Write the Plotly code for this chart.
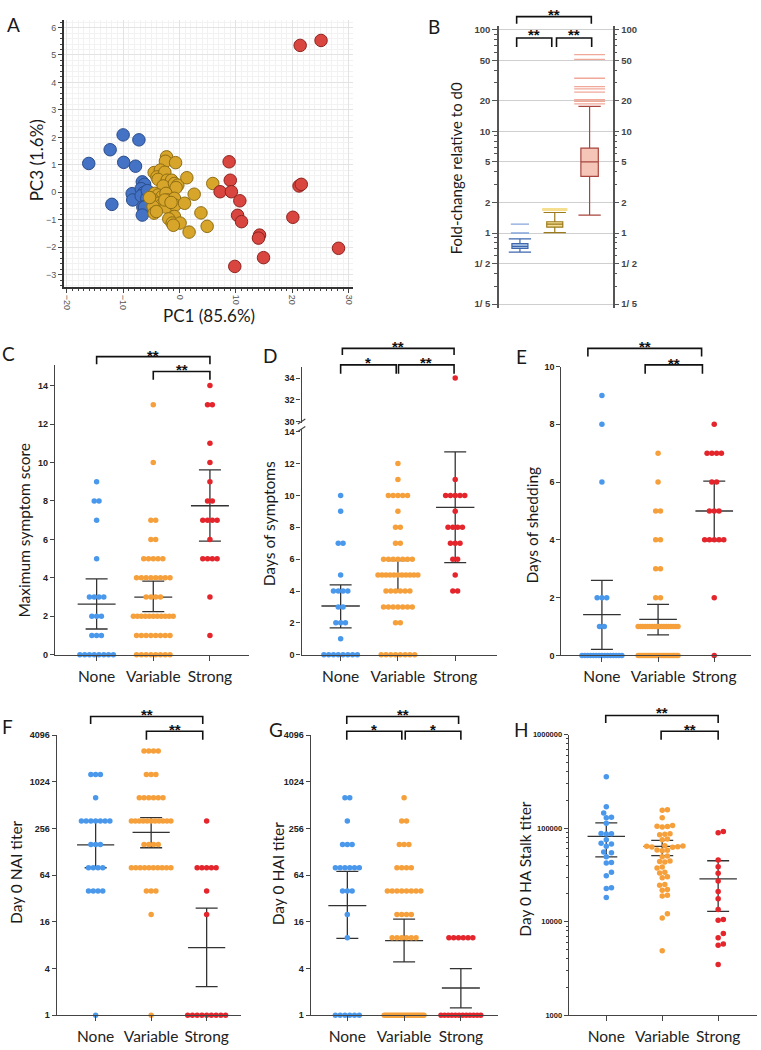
import math
import plotly.graph_objects as go

W, H = 761, 1050


def px(x):
    return x / W


def py(y):
    return 1 - y / H


CATS = ["None", "Variable", "Strong"]
DOT_COLORS = ["#4a98ec", "#f6a03c", "#e4252c"]
TEXT_FONT = "Lato"

# ---------------- Panel A (PCA) ----------------
A_BLUE_PC1 = [-16.1, -10.0, -7.2, -12.3, -9.9, -7.8, -12.0, -8.4, -8.3, -6.6, -6.2, -6.8, -6.3, -6.8, -5.8, -6.5, -6.2, -6.6, -5.7]
A_BLUE_PC3 = [1.05, 2.09, 1.91, 1.55, 1.09, 0.95, -0.44, -0.05, -0.28, 0.38, 0.29, 0.13, -0.01, -0.13, -0.22, -0.54, -0.54, -0.83, 0.06]
A_GOLD_PC1 = [-2.3, -2.5, -0.7, -4.5, -3.4, -4.0, -2.6, -3.8, -2.2, -1.4, -2.9, -0.9, -0.3, -0.6, 1.3, 5.9, 2.6, -4.4, -3.8, -3.1, -2.4, -2.1,
              -0.9, -4.7, -3.8, -3.2, -4.7, -2.4, -0.8, 0.9, -4.5, -4.1, -0.9, -1.9, -1.3, 0.1, -1.1, 3.8, 4.9, 1.7, -2.6, -1.5, -5.3]
A_GOLD_PC3 = [1.29, 1.13, 1.08, 0.72, 0.81, 0.56, 0.73, 0.47, 0.44, 0.44, 0.23, 0.32, 0.26, 0.17, 0.53, 0.32, -0.07, -0.04, -0.10, -0.16, -0.04, -0.28,
              -0.22, -0.28, -0.40, -0.46, -0.52, -0.54, -0.47, -0.40, -0.76, -0.70, -0.88, -0.97, -1.12, -1.12, -1.20, -0.75, -1.24, -1.45, -0.28, -0.37, -0.19]
A_RED_PC1 = [21.4, 25.1, 8.8, 9.0, 7.2, 9.2, 10.7, 10.3, 11.0, 21.2, 21.6, 20.1, 14.2, 14.0, 14.9, 9.8, 28.2]
A_RED_PC3 = [5.35, 5.53, 1.11, 0.44, 0.02, 0.02, -0.31, -0.84, -1.07, 0.23, 0.29, -0.91, -1.56, -1.67, -2.38, -2.70, -2.04]

# ---------------- Panel B (box plots) ----------------
B_Q1 = [0.705, 1.14, 3.6]
B_MED = [0.74, 1.22, 5.0]
B_Q3 = [0.787, 1.29, 6.84]
B_LOW = [0.65, 1.01, 1.5]
B_HIGH = [0.875, 1.59, 17.6]
B_OUT_BLUE = [1.0, 1.22]
B_OUT_GOLD = [1.68, 1.73]
B_OUT_RED = [56.8, 51.0, 33.2, 27.5, 26.1, 24.3, 20.4, 19.7, 18.6]
B_TICKS = [0.2, 0.5, 1, 2, 5, 10, 20, 50, 100]
B_TICKTEXT = ["1/ 5", "1/ 2", "1", "2", "5", "10", "20", "50", "100"]

# ---------------- Panel C ----------------
C_VALS = [[9, 8, 7, 5, 3, 2, 1, 0], [13, 10, 7, 6, 5, 4, 3, 2, 1, 0], [14, 13, 11, 10, 9, 8, 7, 6, 5, 3, 1]]
C_CNTS = [[1, 2, 1, 1, 4, 3, 3, 8], [1, 1, 2, 2, 5, 8, 4, 11, 8, 8], [1, 2, 1, 1, 1, 2, 4, 1, 4, 1, 1]]
C_MEAN = [2.63, 3.0, 7.75]
C_LO = [1.34, 2.24, 5.91]
C_HI = [3.95, 3.83, 9.62]

# ---------------- Panel D ----------------
D_VALS = [[10, 9, 7, 5, 4, 3, 2, 1, 0], [12, 11, 10, 9, 8, 7, 6, 5, 4, 3, 2, 0], [34, 11, 10, 9, 8, 7, 6, 5, 4]]
D_CNTS = [[1, 1, 2, 1, 4, 2, 3, 1, 8], [1, 1, 5, 1, 2, 2, 7, 11, 6, 7, 2, 8], [1, 1, 5, 1, 4, 3, 2, 1, 2]]
D_MEAN = [3.06, 4.93, 9.25]
D_LO = [1.68, 4.0, 5.78]
D_HI = [4.39, 5.9, 12.73]

# ---------------- Panel E ----------------
E_VALS = [[9, 8, 6, 2, 1, 0], [7, 6, 5, 4, 3, 2, 1, 0], [8, 7, 6, 5, 4, 2, 0]]
E_CNTS = [[1, 1, 1, 3, 2, 15], [1, 1, 2, 2, 2, 2, 18, 25], [1, 4, 2, 3, 5, 1, 1]]
E_MEAN = [1.41, 1.25, 5.0]
E_LO = [0.21, 0.71, 3.97]
E_HI = [2.6, 1.77, 6.03]

# ---------------- Panel F ----------------
F_VALS = [[1280, 640, 320, 160, 80, 40, 1], [2560, 1280, 640, 320, 160, 80, 40, 20, 1], [320, 80, 40, 20, 1]]
F_CNTS = [[3, 1, 7, 3, 4, 4, 1], [4, 3, 6, 11, 4, 10, 3, 1, 1], [1, 5, 1, 1, 9]]
F_MEAN = [158, 229, 7.45]
F_LO = [80, 145, 2.34]
F_HI = [320, 355, 24.1]

# ---------------- Panel G ----------------
G_VALS = [[640, 320, 160, 80, 40, 20, 10, 1], [640, 320, 160, 80, 40, 20, 10, 1], [10, 1]]
G_CNTS = [[2, 1, 3, 6, 3, 1, 1, 6], [1, 2, 3, 4, 8, 4, 6, 25], [6, 12]]
G_MEAN = [26, 9.2, 2.25]
G_LO = [9.8, 4.9, 1.25]
G_HI = [72, 17.4, 4.0]

TITER_TICKS = [1, 4, 16, 64, 256, 1024, 4096]

# ---------------- Panel H ----------------
H_NONE = [354000, 170000, 145000, 129000, 131000, 113000, 88000, 87300, 86500, 75500, 68900, 68000, 64000, 55800, 54500,
          49500, 43000, 42400, 33800, 31100, 23100, 22700, 18200]
H_VARIABLE = [158000, 156000, 129000, 107000, 105000, 104000, 103000, 87000, 86000, 85000, 76500, 75500, 65000, 64500, 64000,
              63500, 63000, 62500, 58500, 58000, 57500, 50500, 49500, 44500, 44000, 43500, 38500, 37500, 33800, 33200, 30200,
              29600, 25000, 24600, 22100, 21700, 19200, 18800, 12200, 11000, 4900]
H_STRONG = [92500, 89600, 45600, 38700, 33000, 27300, 21100, 17600, 13500, 10600, 10400, 7500, 6760, 5800, 5600, 3500]
H_MEAN = [81800, 64000, 28700]
H_LO = [49400, 51000, 12900]
H_HI = [114000, 74000, 44900]

fig = go.Figure()


def row_points(vals, cnts, ppu, step_px=4.8, max_px=40.0):
    xs, ys = [], []
    for gi, (vl, cl) in enumerate(zip(vals, cnts)):
        gx, gy = [], []
        for v, n in zip(vl, cl):
            s = step_px if n <= 1 else min(step_px, max_px / (n - 1))
            for k in range(n):
                gx.append(gi + (k - (n - 1) / 2) * s / ppu)
                gy.append(v)
        xs.append(gx)
        ys.append(gy)
    return xs, ys


def swarm(vals, gi, px_per_dec, ppu, d=5.2):
    ys = [math.log10(v) * px_per_dec for v in vals]
    order = sorted(range(len(vals)), key=lambda i: ys[i])
    placed = []
    offs = [0.0] * len(vals)
    cands = [0.0]
    for k in range(1, 60):
        cands += [k * d / 2, -k * d / 2]
    for i in order:
        y = ys[i]
        for c in cands:
            if all((c - a) ** 2 + (y - b) ** 2 >= d * d for a, b in placed):
                break
        placed.append((c, y))
        offs[i] = gi + c / ppu
    return offs


def add_summary(xa, ya, mean, lo, hi, half=0.335):
    fig.add_trace(go.Scatter(
        x=[0, 1, 2], y=mean, mode="markers", xaxis=xa, yaxis=ya,
        marker=dict(size=1, opacity=0), cliponaxis=False, hoverinfo="skip", showlegend=False,
        error_y=dict(type="data", symmetric=False,
                     array=[h - m for h, m in zip(hi, mean)],
                     arrayminus=[m - l for m, l in zip(mean, lo)],
                     color="#333333", thickness=1.3, width=11)))
    lx, ly = [], []
    for i, m in enumerate(mean):
        lx += [i - half, i + half, None]
        ly += [m, m, None]
    fig.add_trace(go.Scatter(x=lx, y=ly, mode="lines", xaxis=xa, yaxis=ya,
                             line=dict(color="#333333", width=1.3), cliponaxis=False,
                             hoverinfo="skip", showlegend=False))


def add_dots(xa, ya, xs, ys):
    for gi in range(3):
        fig.add_trace(go.Scatter(x=xs[gi], y=ys[gi], mode="markers", xaxis=xa, yaxis=ya,
                                 marker=dict(size=5.5, color=DOT_COLORS[gi], line=dict(width=0)),
                                 cliponaxis=False, hoverinfo="skip", showlegend=False))


# ---- Panel A traces
for pc1, pc3, col, edge in [(A_BLUE_PC1, A_BLUE_PC3, "#4472c4", "#2b4d8c"),
                            (A_GOLD_PC1, A_GOLD_PC3, "#d6a52a", "#8f6d12"),
                            (A_RED_PC1, A_RED_PC3, "#d9453f", "#8e2420")]:
    fig.add_trace(go.Scatter(x=pc1, y=pc3, mode="markers", xaxis="x", yaxis="y",
                             marker=dict(size=12.5, color=col, line=dict(color=edge, width=1)),
                             hoverinfo="skip", showlegend=False))

# ---- Panel B traces
B_FILL = ["#b9cfec", "#f4df94", "#f5c6b8"]
B_LINE = ["#3d66ad", "#9a7a1c", "#a8443c"]
B_OUTC = ["#86a6dc", "#f2d46a", "#f0a898"]
B_OUTS = [13, 18, 22]
B_W = [0.46, 0.46, 0.5]
for i in range(3):
    fig.add_trace(go.Box(x=[i], q1=[B_Q1[i]], median=[B_MED[i]], q3=[B_Q3[i]],
                         lowerfence=[B_LOW[i]], upperfence=[B_HIGH[i]], width=B_W[i], whiskerwidth=0,
                         fillcolor=B_FILL[i], line=dict(color=B_LINE[i], width=1.2),
                         boxpoints=False, xaxis="x2", yaxis="y2", hoverinfo="skip", showlegend=False))
    cw = 0.32
    fig.add_trace(go.Scatter(x=[i - cw, i + cw, None, i - cw, i + cw],
                             y=[B_LOW[i], B_LOW[i], None, B_HIGH[i], B_HIGH[i]],
                             mode="lines", line=dict(color=B_LINE[i], width=1.2),
                             xaxis="x2", yaxis="y2", hoverinfo="skip", showlegend=False))
for i, outs in enumerate([B_OUT_BLUE, B_OUT_GOLD, B_OUT_RED]):
    fig.add_trace(go.Scatter(x=[i] * len(outs), y=outs, mode="markers", xaxis="x2", yaxis="y2",
                             marker=dict(symbol="line-ew", size=B_OUTS[i], line=dict(color=B_OUTC[i], width=1.3)),
                             hoverinfo="skip", showlegend=False))
fig.add_trace(go.Scatter(x=[1], y=[1], mode="markers", marker=dict(opacity=0), xaxis="x2", yaxis="y3",
                         hoverinfo="skip", showlegend=False))

# ---- Panel C
add_summary("x3", "y4", C_MEAN, C_LO, C_HI)
xs, ys = row_points(C_VALS, C_CNTS, 56.9)
add_dots("x3", "y4", xs, ys)

# ---- Panel D (broken axis)
add_summary("x4", "y5", D_MEAN, D_LO, D_HI)
xs, ys = row_points(D_VALS, D_CNTS, 57.5)
lowx, lowy, upx, upy = [], [], [], []
for gi in range(3):
    lx_, ly_, ux_, uy_ = [], [], [], []
    for x_, y_ in zip(xs[gi], ys[gi]):
        if y_ >= 30:
            ux_.append(x_); uy_.append(y_)
        else:
            lx_.append(x_); ly_.append(y_)
    lowx.append(lx_); lowy.append(ly_); upx.append(ux_); upy.append(uy_)
add_dots("x4", "y5", lowx, lowy)
add_dots("x4", "y6", upx, upy)

# ---- Panel E
add_summary("x5", "y7", E_MEAN, E_LO, E_HI)
xs, ys = row_points(E_VALS, E_CNTS, 56.35)
add_dots("x5", "y7", xs, ys)

# ---- Panel F
add_summary("x6", "y8", F_MEAN, F_LO, F_HI)
xs, ys = row_points(F_VALS, F_CNTS, 56.2)
add_dots("x6", "y8", xs, ys)

# ---- Panel G
add_summary("x7", "y9", G_MEAN, G_LO, G_HI)
xs, ys = row_points(G_VALS, G_CNTS, 57.0)
add_dots("x7", "y9", xs, ys)

# ---- Panel H
add_summary("x8", "y10", H_MEAN, H_LO, H_HI)
hx = [swarm(g, gi, 94.4, 56.15) for gi, g in enumerate([H_NONE, H_VARIABLE, H_STRONG])]
add_dots("x8", "y10", hx, [H_NONE, H_VARIABLE, H_STRONG])

# ---------------- Axes ----------------
TICKFONT = dict(family="Liberation Sans", size=9, color="#222222", weight="bold")
CATFONT = dict(family=TEXT_FONT, size=15.5, color="#222222")
LINEC = "#444444"


def cat_x(domain, rng, anchor):
    return dict(domain=domain, range=rng, anchor=anchor, tickmode="array", tickvals=[0, 1, 2],
                ticktext=CATS, tickfont=CATFONT, showline=True, linecolor=LINEC, linewidth=1.3,
                ticks="outside", ticklen=5, tickcolor=LINEC, showgrid=False, zeroline=False,
                ticklabelstandoff=2, fixedrange=True)


def val_y(domain, rng, anchor, **kw):
    d = dict(domain=domain, range=rng, anchor=anchor, showline=True, linecolor=LINEC, linewidth=1.3,
             ticks="outside", ticklen=4, tickcolor=LINEC, tickfont=TICKFONT, showgrid=False,
             zeroline=False, fixedrange=True)
    d.update(kw)
    return d


layout = dict(
    width=W, height=H, margin=dict(l=0, r=0, t=0, b=0),
    paper_bgcolor="white", plot_bgcolor="white", showlegend=False,
    font=dict(family=TEXT_FONT, color="#222222"),
    # A
    xaxis=dict(domain=[px(62), px(352)], range=[-20.53, 30.7], anchor="y", tick0=0, dtick=10,
               tickangle=90, tickfont=dict(family="Liberation Sans", size=9, color="#555555"),
               showline=True, linecolor="#333333", linewidth=1.5, ticks="outside", ticklen=4,
               showgrid=True, gridcolor="#e3e3e3", gridwidth=1, zeroline=False,
               minor=dict(tick0=0, dtick=1, showgrid=True, gridcolor="#f2f2f2", ticks="outside", ticklen=2)),
    yaxis=dict(domain=[py(285), py(15)], range=[-3.46, 6.28], anchor="x", tick0=0, dtick=1,
               tickfont=dict(family="Liberation Sans", size=9, color="#555555"),
               showline=True, linecolor="#333333", linewidth=1.5, ticks="outside", ticklen=4,
               showgrid=True, gridcolor="#e3e3e3", gridwidth=1, zeroline=False,
               minor=dict(tick0=0, dtick=0.2, showgrid=True, gridcolor="#f2f2f2", ticks="outside", ticklen=2)),
    # B
    xaxis2=dict(domain=[px(499), px(613)], range=[-0.6, 2.66], anchor="y2", visible=False, fixedrange=True),
    yaxis2=dict(domain=[py(306), py(21.7)], type="log", range=[-0.738, 2.03], anchor="x2",
                tickmode="array", tickvals=B_TICKS, ticktext=B_TICKTEXT,
                tickfont=dict(family="Liberation Sans", size=9.5, color="#444444", weight="bold"),
                showline=True, linecolor="#555555", linewidth=1.5, ticks="outside", ticklen=5,
                tickcolor="#555555", showgrid=True, gridcolor="#cfcfcf", zeroline=False,
                minor=dict(tickmode="array", tickvals=[0.3, 0.4, 0.6, 0.7, 0.8, 0.9, 3, 4, 6, 7, 8, 9, 30, 40, 60, 70, 80, 90],
                           ticks="outside", ticklen=3, tickcolor="#555555", showgrid=False)),
    yaxis3=dict(overlaying="y2", side="right", type="log", range=[-0.738, 2.03], anchor="x2",
                tickmode="array", tickvals=B_TICKS, ticktext=B_TICKTEXT,
                tickfont=dict(family="Liberation Sans", size=9.5, color="#444444", weight="bold"),
                showline=True, linecolor="#555555", linewidth=1.5, ticks="outside", ticklen=5,
                tickcolor="#555555", showgrid=False, zeroline=False,
                minor=dict(tickmode="array", tickvals=[0.3, 0.4, 0.6, 0.7, 0.8, 0.9, 3, 4, 6, 7, 8, 9, 30, 40, 60, 70, 80, 90],
                           ticks="outside", ticklen=3, tickcolor="#555555", showgrid=False)),
    # C
    xaxis3=cat_x([px(53.3), px(248)], [-0.733, 2.69], "y4"),
    yaxis4=val_y([py(656), py(363.3)], [0, 15.08], "x3", tick0=0, dtick=2),
    # D
    xaxis4=cat_x([px(300.7), px(496.7)], [-0.683, 2.725], "y5"),
    yaxis5=val_y([py(656), py(428)], [0, 14.17], "x4", tick0=0, dtick=2),
    yaxis6=val_y([py(421.7), py(365)], [29.9, 35.06], "x4", tickmode="array", tickvals=[30, 32, 34]),
    # E
    xaxis5=cat_x([px(561.7), px(751.7)], [-0.72, 2.65], "y7"),
    yaxis7=val_y([py(656.7), py(365)], [0, 10], "x5", tick0=0, dtick=2),
    # F
    xaxis6=cat_x([px(55), px(240)], [-0.70, 2.62], "y8"),
    yaxis8=val_y([py(1020), py(737.3)], [0, math.log10(4096)], "x6", type="log",
                 tickmode="array", tickvals=TITER_TICKS, ticktext=[str(t) for t in TITER_TICKS]),
    # G
    xaxis7=cat_x([px(310), px(498.3)], [-0.644, 2.66], "y9"),
    yaxis9=val_y([py(1020), py(737.3)], [0, math.log10(4096)], "x7", type="log",
                 tickmode="array", tickvals=TITER_TICKS, ticktext=[str(t) for t in TITER_TICKS]),
    # H
    xaxis8=cat_x([px(569), px(758.3)], [-0.671, 2.70], "y10"),
    yaxis10=val_y([py(1020), py(736.7)], [3, 6], "x8", type="log",
                  tickmode="array", tickvals=[1000, 10000, 100000, 1000000],
                  ticktext=["1000", "10000", "100000", "1000000"],
                  tickfont=dict(family="Liberation Sans", size=7.5, color="#222222", weight="bold"),
                  minor=dict(tickmode="array",
                             tickvals=[m * 10 ** e for e in range(3, 6) for m in range(2, 10)],
                             ticks="outside", ticklen=2, tickcolor=LINEC)),
)
fig.update_layout(**layout)

# ---------------- Brackets ----------------
BRACKETS = [
    ("x2", -0.094, 2.05, 11.7, 19, "**", 6),
    ("x2", -0.094, 0.914, 33.3, 42.3, "**", 26.7),
    ("x2", 1.05, 2.06, 33.3, 42.3, "**", 26.7),
    ("x3", 0.0, 2.0, 355, 362.7, "**", 350),
    ("x3", 1.0, 2.0, 370, 378.3, "**", 365),
    ("x4", 0.03, 1.98, 346.7, 353.3, "**", 341),
    ("x4", 0.0, 0.97, 363.3, 372.3, "*", 357),
    ("x4", 1.01, 1.98, 363.3, 372.3, "**", 357),
    ("x5", -0.25, 1.775, 346.7, 355, "**", 341),
    ("x5", 0.77, 1.79, 363.3, 372.3, "**", 358),
    ("x6", -0.09, 1.93, 718.3, 726, "**", 712.7),
    ("x6", 0.915, 1.93, 733.3, 741.7, "**", 728.3),
    ("x7", -0.01, 1.96, 718.3, 726, "**", 712.7),
    ("x7", -0.01, 0.96, 733.3, 741.7, "*", 728.3),
    ("x7", 1.02, 2.0, 733.3, 741.7, "*", 728.3),
    ("x8", -0.01, 2.0, 717.3, 725, "**", 711),
    ("x8", 0.98, 2.0, 733.3, 741.7, "**", 728),
]
for xr, x0, x1, yl, yb, lab, ylab in BRACKETS:
    fig.add_shape(type="path", xref=xr, yref="paper",
                  path=f"M {x0},{py(yb)} L {x0},{py(yl)} L {x1},{py(yl)} L {x1},{py(yb)}",
                  line=dict(color="#111111", width=1.6))
    fig.add_annotation(x=(x0 + x1) / 2, y=py(ylab + 3.5), xref=xr, yref="paper", text=lab,
                       showarrow=False, xanchor="center", yanchor="middle",
                       font=dict(family="Liberation Sans", size=15, color="#111111", weight="bold"))

# axis break marks on D
for y0 in [423, 430.5]:
    fig.add_shape(type="line", xref="paper", yref="paper", x0=px(297), x1=px(304.5),
                  y0=py(y0), y1=py(y0 - 5), line=dict(color=LINEC, width=1.2))

# ---------------- Text ----------------
ANN = [
    ("A", 12, 20, 0, 19), ("B", 434, 22, 0, 19), ("C", 7, 352, 0, 19), ("D", 269, 354, 0, 19),
    ("E", 522, 355, 0, 19), ("F", 6, 728, 0, 19), ("G", 275, 731, 0, 19), ("H", 522, 731, 0, 19),
    ("PC1 (85.6%)", 207.5, 313, 0, 17), ("PC3 (1.6%)", 35, 157, -90, 17),
    ("Fold-change relative to d0", 456.7, 165, -90, 15),
    ("Maximum symptom score", 21.7, 530, -90, 15.5), ("Days of symptoms", 268.3, 524, -90, 15.5),
    ("Days of shedding", 531.7, 525, -90, 15.5), ("Day 0 NAI titer", 13.3, 875, -90, 15.5),
    ("Day 0 HAI titer", 276.7, 877, -90, 15.5), ("Day 0 HA Stalk titer", 525, 872, -90, 15.5),
]
for text, x, y, ang, size in ANN:
    fig.add_annotation(x=px(x), y=py(y), xref="paper", yref="paper", text=text, showarrow=False,
                       xanchor="center", yanchor="middle", textangle=ang,
                       font=dict(family=TEXT_FONT, size=size, color="#1a1a1a"))

fig.write_html("out.html", config={"displayModeBar": False},
               post_script="document.body.style.margin='0px';document.body.style.overflow='hidden';")
